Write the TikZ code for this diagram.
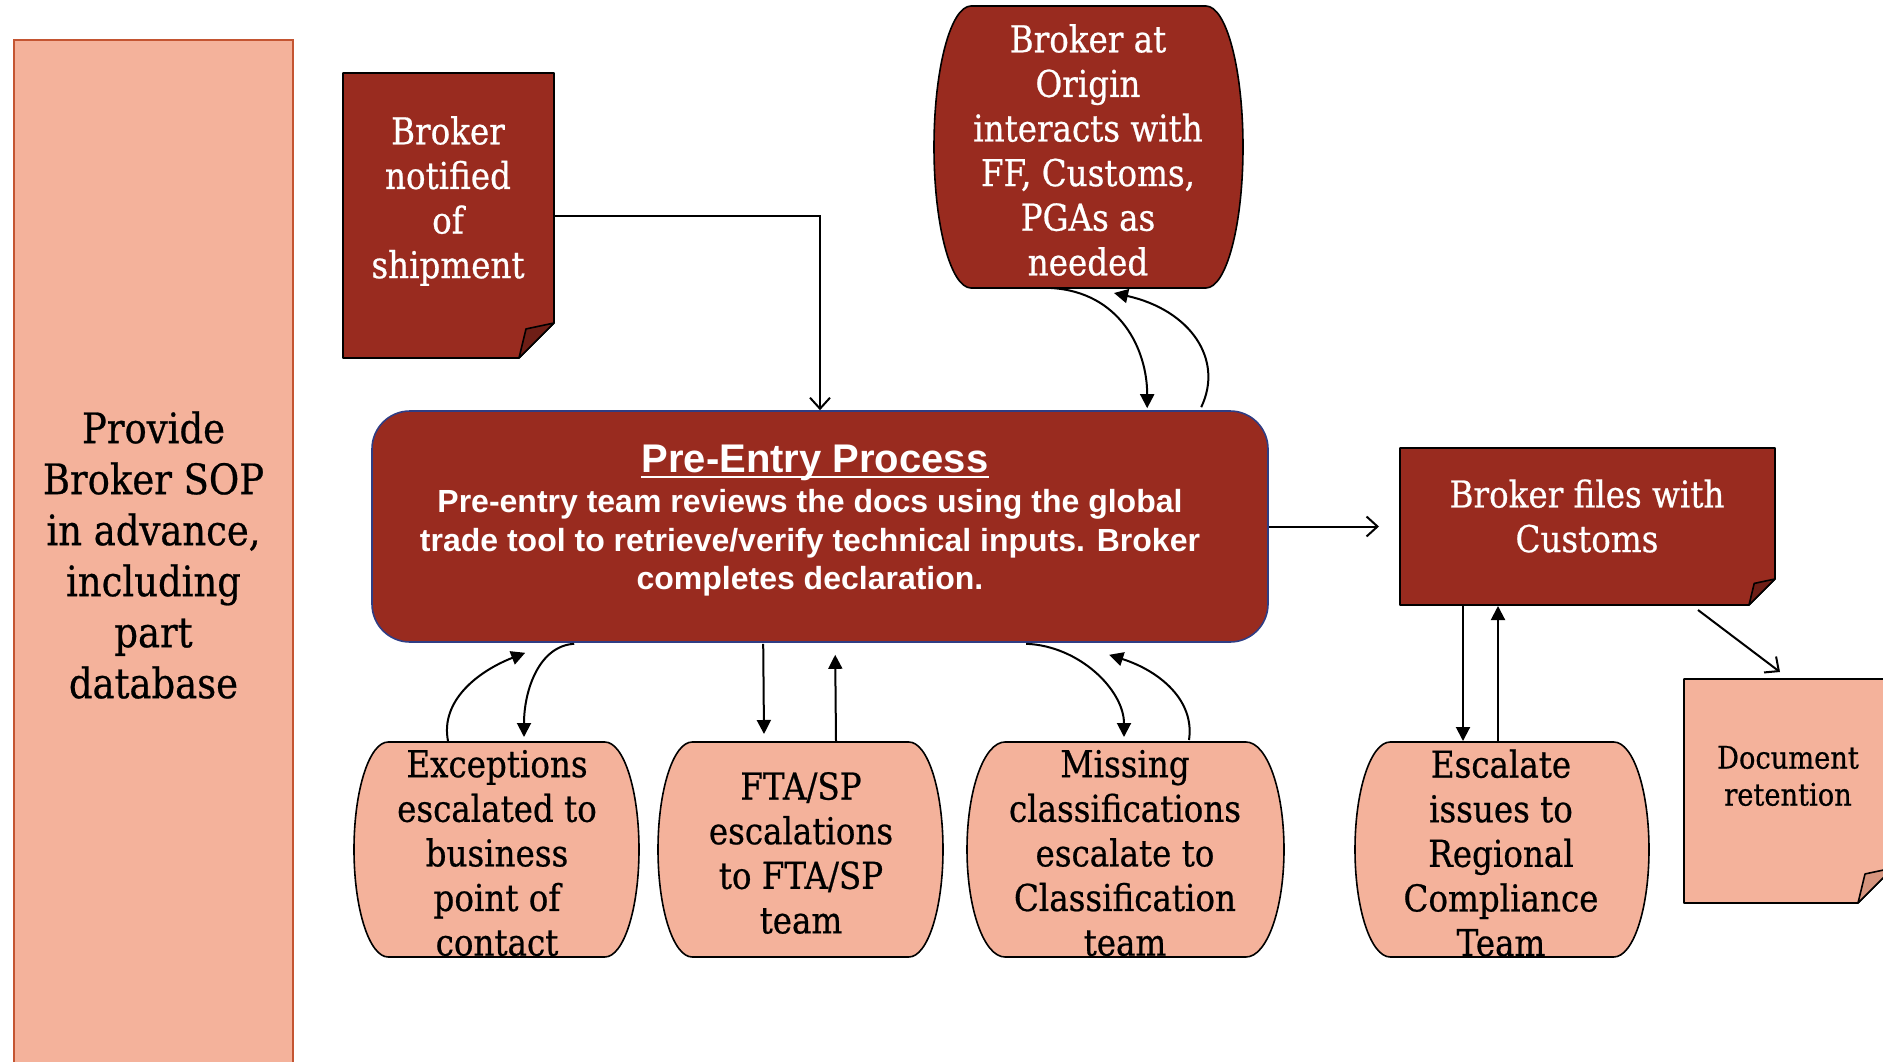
\documentclass[tikz,border=0pt]{standalone}
\usepackage{fontspec}
\setmainfont{DejaVu Serif}
\newfontfamily\rock[FakeStretch=0.88,FakeBold=0.6]{DejaVu Serif}
\newfontfamily\arial{Liberation Sans}
\usetikzlibrary{arrows.meta,calc}
\definecolor{darkred}{RGB}{153,43,31}
\definecolor{folddark}{RGB}{110,30,22}
\definecolor{salmon}{RGB}{244,178,155}
\definecolor{foldsalmon}{RGB}{214,149,126}
\definecolor{sopborder}{RGB}{196,85,50}
\definecolor{preblue}{RGB}{47,61,132}
\tikzset{
  shapeline/.style={draw=black, line width=1.6pt, line join=round},
  boxanchor/.style={inner sep=0pt, outer sep=0pt, draw=none},
  conn/.style={draw=black, line width=2pt},
  filledarr/.style={conn, -{Triangle[length=14pt,width=14pt]}},
  openarr/.style={conn, -{Straight Barb[length=11pt,width=20pt,line width=2pt]}},
  lighttxt/.style={align=center, text=white, inner sep=0pt, font=\rock\fontsize{37}{44.6}\selectfont},
  darktxt/.style={align=center, text=black, inner sep=0pt, font=\rock\fontsize{37}{44.6}\selectfont},
  smalltxt/.style={align=center, text=black, inner sep=0pt, font=\rock\fontsize{31}{37}\selectfont},
  soptxt/.style={align=center, text=black, font=\rock\fontsize{42}{51}\selectfont},
}
\newcommand\notebox[8]{%
  \pgfmathsetmacro\nbW{#4-#2}\pgfmathsetmacro\nbH{#5-#3}%
  \pgfmathsetmacro\nbCX{(#2+#4)/2}\pgfmathsetmacro\nbCY{(#3+#5)/2}%
  \pgfmathsetmacro\nbFY{#5-#6}\pgfmathsetmacro\nbFX{#4-#6}%
  \pgfmathsetmacro\nbIX{#4-0.8*#6}\pgfmathsetmacro\nbIY{#5-0.83*#6}%
  \draw[shapeline, fill=#7] (#2,#3) -- (#4,#3) -- (#4,\nbFY) -- (\nbFX,#5) -- (#2,#5) -- cycle;
  \draw[shapeline, fill=#8] (#4,\nbFY) -- (\nbIX,\nbIY) -- (\nbFX,#5) -- cycle;
  \node[boxanchor, minimum width=\nbW pt, minimum height=\nbH pt] (#1) at (\nbCX,\nbCY) {};
}
\newcommand\barrel[6]{%
  \pgfmathsetmacro\brA{0.12*(#4-#2)}\pgfmathsetmacro\brHH{(#5-#3)/2}%
  \pgfmathsetmacro\brXA{#2+\brA}\pgfmathsetmacro\brXB{#4-\brA}%
  \pgfmathsetmacro\brXC{#4-0.4477*\brA}\pgfmathsetmacro\brXD{#2+0.4477*\brA}%
  \pgfmathsetmacro\brYM{(#3+#5)/2}\pgfmathsetmacro\brXM{(#2+#4)/2}%
  \pgfmathsetmacro\brYT{\brYM-0.5523*\brHH}\pgfmathsetmacro\brYB{\brYM+0.5523*\brHH}%
  \pgfmathsetmacro\brW{#4-#2}\pgfmathsetmacro\brH{#5-#3}%
  \draw[shapeline, fill=#6] (\brXA,#3) -- (\brXB,#3) .. controls (\brXC,#3) and (#4,\brYT) .. (#4,\brYM)
     .. controls (#4,\brYB) and (\brXC,#5) .. (\brXB,#5) -- (\brXA,#5)
     .. controls (\brXD,#5) and (#2,\brYB) .. (#2,\brYM)
     .. controls (#2,\brYT) and (\brXD,#3) .. (\brXA,#3) -- cycle;
  \node[boxanchor, minimum width=\brW pt, minimum height=\brH pt] (#1) at (\brXM,\brYM) {};
}
\begin{document}
\begin{tikzpicture}[x=1pt,y=-1pt]
\useasboundingbox (0,0) rectangle (1883,1062);
\fill[white] (0,0) rectangle (1883,1062);

% left panel
\node[draw=sopborder, fill=salmon, line width=1.6pt, minimum width=279pt, minimum height=1030pt, soptxt] (sop) at (153.5,555) {Provide\\Broker SOP\\in advance,\\including\\part\\database};

% broker notified
\notebox{notif}{343}{73}{554}{358}{35}{darkred}{folddark}
\node[lighttxt] (notift) at (448,201) {Broker\\notified\\of\\shipment};

% broker at origin
\barrel{orig}{934}{6}{1243}{288}{darkred}
\node[lighttxt] (origt) at (1088,150) {Broker at\\Origin\\interacts with\\FF, Customs,\\PGAs as\\needed};

% pre-entry
\node[draw=preblue, fill=darkred, line width=1.6pt, rounded corners=38pt, minimum width=896pt, minimum height=231pt] (pre) at (820,526.5) {};
\node[anchor=base, inner sep=0pt, text=white, font=\arial\bfseries\fontsize{40}{48}\selectfont] (pretitle) at (815,472) {Pre-Entry Process};
\draw[white, line width=2.5pt] ($(pretitle.base west)+(0,5)$) -- ($(pretitle.base east)+(0,5)$);
\node[align=center, inner sep=0pt, text=white, font=\arial\bfseries\fontsize{32}{38.5}\selectfont] (prebody) at (810,543) {Pre-entry team reviews the docs using the global\\trade tool to retrieve/verify technical inputs. Broker\\completes declaration.};

% broker files
\notebox{files}{1400}{448}{1775}{605}{26}{darkred}{folddark}
\node[lighttxt] (filest) at (1587,516) {Broker files with\\Customs};

% document retention
\notebox{doc}{1684}{679}{1893}{903}{35}{salmon}{foldsalmon}
\node[smalltxt] (doct) at (1788,776) {Document\\retention};

% bottom row
\barrel{exc}{354}{742}{639}{957}{salmon}
\node[darktxt] (exct) at (497,853) {Exceptions\\escalated to\\business\\point of\\contact};
\barrel{fta}{658}{742}{943}{957}{salmon}
\node[darktxt] (ftat) at (801,853) {FTA/SP\\escalations\\to FTA/SP\\team};
\barrel{miss}{967}{742}{1284}{957}{salmon}
\node[darktxt] (misst) at (1125,853) {Missing\\classifications\\escalate to\\Classification\\team};
\barrel{esc}{1355}{742}{1649}{957}{salmon}
\node[darktxt] (esct) at (1501,853) {Escalate\\issues to\\Regional\\Compliance\\Team};

% connectors
\draw[openarr] (notif.east) -| (pre.north);
\draw[openarr] (pre.east) -- ($(files.west)+(-21,0)$);
\draw[openarr] ($(files.south west)+(298,5)$) -- ($(doc.north west)+(96,-7)$);

\draw[filledarr] ($(files.south west)+(63,1)$) -- ($(esc.north)+(-39,-1)$);
\draw[filledarr] ($(esc.north)+(-4,-1)$) -- ($(files.south west)+(98,1)$);

\draw[filledarr] ($(pre.south west)+(392,1)$) -- ($(fta.north)+(-36.5,-8)$);
\draw[filledarr] ($(fta.north)+(35.5,-1)$) -- ($(pre.south west)+(464,12)$);

\draw[filledarr] ($(orig.south)+(-37.5,0)$) .. controls +(69,4) and +(0,-59) .. ($(pre.north west)+(776,-2)$);
\draw[filledarr] ($(pre.north west)+(830,-3)$) .. controls +(23,-48) and +(76,17) .. ($(orig.south)+(25.5,5)$);

\draw[filledarr] ($(exc.north)+(-48.5,-1)$) .. controls +(-8,-41) and +(-46,18) .. ($(pre.south west)+(154,10)$);
\draw[filledarr] ($(pre.south west)+(203,1)$) .. controls +(-35,2) and +(0,-47) .. ($(exc.north)+(27.5,-5)$);

\draw[filledarr] ($(pre.south west)+(655,1)$) .. controls +(53,2) and +(0,-47) .. ($(miss.north)+(-1.5,-5)$);
\draw[filledarr] ($(miss.north)+(63.5,-2)$) .. controls +(6,-40) and +(50,16) .. ($(pre.south west)+(738,12)$);
\end{tikzpicture}
\end{document}
